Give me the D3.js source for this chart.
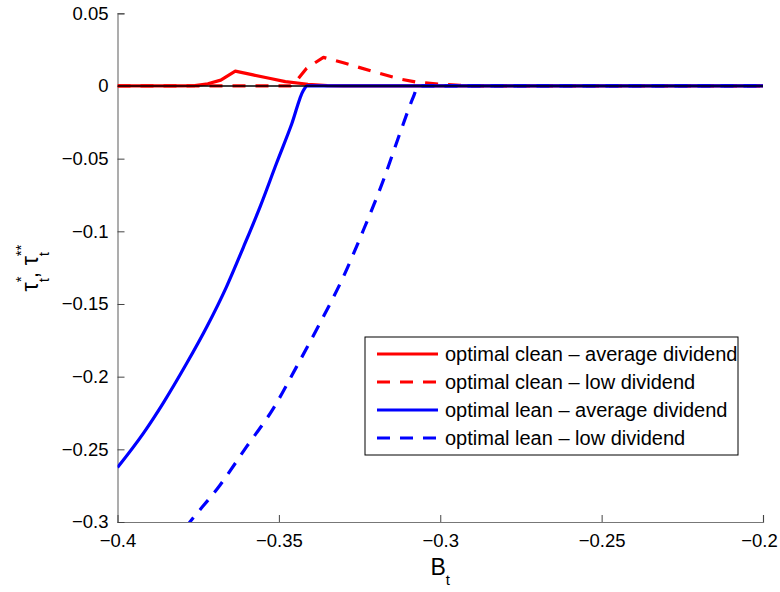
<!DOCTYPE html>
<html>
<head>
<meta charset="utf-8">
<script src="https://cdn.jsdelivr.net/npm/d3@7"></script>
<style>
  body { margin: 0; background: #fff; }
  text { font-family: "Liberation Sans", Arial, Helvetica, sans-serif; }
</style>
</head>
<body>
<div id="chart"></div>
<script>
// series: [B_t, tau]
var cleanAvg = [[-0.4, 0], [-0.38, 0], [-0.376, 0.0003], [-0.372, 0.0015], [-0.368, 0.004],
  [-0.3635, 0.0102], [-0.358, 0.0076], [-0.353, 0.0053], [-0.348, 0.003], [-0.341, 0.0012],
  [-0.335, 0.0003], [-0.33, 0], [-0.2, 0]];
var cleanLow = [[-0.4, 0], [-0.3465, 0], [-0.344, 0.005], [-0.3414, 0.0122], [-0.3362, 0.0197],
  [-0.33, 0.016], [-0.3208, 0.0099], [-0.3125, 0.0048], [-0.307, 0.0025], [-0.3, 0.0012],
  [-0.294, 0.0004], [-0.29, 0], [-0.2, 0]];
var leanAvg = [[-0.4, -0.2625], [-0.392, -0.239], [-0.3858, -0.218], [-0.3786, -0.191],
  [-0.3724, -0.166], [-0.3662, -0.138], [-0.361, -0.111], [-0.3558, -0.083], [-0.3507, -0.053],
  [-0.346, -0.026], [-0.3424, -0.003], [-0.3412, 0], [-0.2, 0]];
var leanLow = [[-0.379, -0.304], [-0.3775, -0.2998], [-0.3682, -0.2745], [-0.36, -0.2482],
  [-0.3517, -0.2218], [-0.3445, -0.1931], [-0.3373, -0.1633], [-0.33, -0.1312], [-0.3238, -0.0991],
  [-0.3176, -0.0647], [-0.3125, -0.0326], [-0.3083, -0.0074], [-0.3068, 0], [-0.2, 0]];
var zeroLine = [[-0.4, 0], [-0.2, 0]];

var xTicks = [-0.4, -0.35, -0.3, -0.25, -0.2];
var yTicks = [0.05, 0, -0.05, -0.1, -0.15, -0.2, -0.25, -0.3];
var legendLabels = ["optimal clean \u2013 average dividend", "optimal clean \u2013 low dividend",
  "optimal lean \u2013 average dividend", "optimal lean \u2013 low dividend"];

var W = 780, H = 592;
var margin = { top: 13.3, right: 17, bottom: 70, left: 117.5 },
    width = W - margin.left - margin.right,
    height = H - margin.top - margin.bottom;

var x = d3.scaleLinear().domain([-0.4, -0.2]).range([0, width]);
var y = d3.scaleLinear().domain([-0.3, 0.05]).range([height, 0]);

var svg = d3.select("#chart").append("svg")
    .attr("width", W).attr("height", H)
  .append("g")
    .attr("transform", "translate(" + margin.left + "," + margin.top + ")");

svg.append("defs").append("clipPath").attr("id", "clip")
  .append("rect").attr("width", width).attr("height", height);

var fmt = function(d) { return d === 0 ? "0" : d3.format("")(d).replace("-", "\u2212"); };

// axes (left + bottom only, ticks inside)
var xAxis = svg.append("g")
    .attr("transform", "translate(0," + height + ")")
    .call(d3.axisBottom(x).tickValues(xTicks).tickSize(-7).tickPadding(12).tickFormat(fmt));
var yAxis = svg.append("g")
    .call(d3.axisLeft(y).tickValues(yTicks).tickSize(-7).tickPadding(17).tickFormat(fmt));

[xAxis, yAxis].forEach(function(a) {
  a.select(".domain").attr("stroke", "#777").attr("stroke-width", 1.2);
  a.selectAll(".tick line").attr("stroke", "#444").attr("stroke-width", 1);
  a.selectAll(".tick text").attr("fill", "#000").style("font-size", "18.5px")
    .style("font-family", "'Liberation Sans', Arial, sans-serif");
});
xAxis.selectAll(".tick text").attr("dy", "0.71em");
// last x label pulled in so it stays inside the figure
xAxis.selectAll(".tick text").filter(function(d) { return d === -0.2; }).attr("x", -4);
// tick labels sit close to the axis line
yAxis.selectAll(".tick text").attr("x", -9);

var line = d3.line()
    .x(function(d) { return x(d[0]); })
    .y(function(d) { return y(d[1]); });

var series = [
  { data: cleanAvg, color: "#ff0000", dash: null, curve: d3.curveLinear },
  { data: cleanLow, color: "#ff0000", dash: "13,10", curve: d3.curveLinear },
  { data: leanAvg, color: "#0000ff", dash: null, curve: d3.curveMonotoneX },
  { data: leanLow, color: "#0000ff", dash: "13,10", curve: d3.curveMonotoneX }
];

var plot = svg.append("g").attr("clip-path", "url(#clip)");

series.forEach(function(s) {
  plot.append("path")
    .datum(s.data)
    .attr("fill", "none")
    .attr("stroke", s.color)
    .attr("stroke-width", 3.2)
    .attr("stroke-linejoin", "round")
    .attr("stroke-dasharray", s.dash)
    .attr("d", line.curve(s.curve));
});

plot.append("path")
  .datum(zeroLine)
  .attr("fill", "none")
  .attr("stroke", "#000")
  .attr("stroke-width", 1.6)
  .attr("d", line.curve(d3.curveLinear));

// legend
var lg = svg.append("g")
    .attr("transform", "translate(" + (365 - margin.left) + "," + (337 - margin.top) + ")");
lg.append("rect")
  .attr("width", 373).attr("height", 118)
  .attr("fill", "#fff").attr("stroke", "#000").attr("stroke-width", 1);

var rows = lg.selectAll("g.row")
  .data(series)
  .enter().append("g")
    .attr("class", "row")
    .attr("transform", function(d, i) { return "translate(0," + (17 + i * 28) + ")"; });

rows.append("line")
  .attr("x1", 12).attr("x2", 73)
  .attr("stroke", function(d) { return d.color; })
  .attr("stroke-width", 3.2)
  .attr("stroke-dasharray", function(d) { return d.dash; });

rows.append("text")
  .attr("x", 80).attr("dy", "0.35em")
  .style("font-size", "20px")
  .text(function(d, i) { return legendLabels[i]; });

// axis labels
var xl = svg.append("text")
  .attr("x", width / 2).attr("y", height + 53)
  .attr("text-anchor", "middle");
xl.append("tspan").style("font-size", "23px").text("B");
xl.append("tspan").style("font-size", "15px").attr("dy", 10).text("t");

var yl = svg.append("text")
  .attr("transform", "translate(" + (38 - margin.left) + "," + (268 - margin.top) + ") rotate(-90)")
  .attr("text-anchor", "middle");
yl.append("tspan").style("font-size", "23px").text("\u03c4");
yl.append("tspan").style("font-size", "15px").attr("dy", -12).text("*");
yl.append("tspan").style("font-size", "15px").attr("dx", -5.8).attr("dy", 23).text("t");
yl.append("tspan").style("font-size", "23px").attr("dy", -11).text(", \u03c4");
yl.append("tspan").style("font-size", "15px").attr("dy", -12).text("**");
yl.append("tspan").style("font-size", "15px").attr("dx", -11.6).attr("dy", 23).text("t");
</script>
</body>
</html>
